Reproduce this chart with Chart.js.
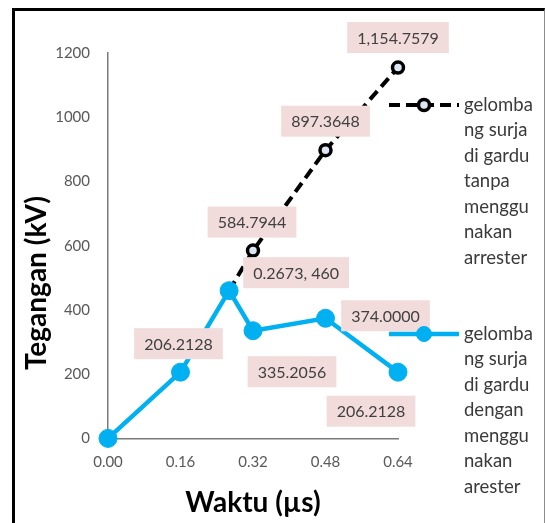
<!DOCTYPE html>
<html>
<head>
<meta charset="utf-8">
<script src="https://cdn.jsdelivr.net/npm/chart.js@4.4.0/dist/chart.umd.min.js"></script>
<style>
html, body { margin: 0; padding: 0; background: #fff; }
#wrap { position: relative; width: 545px; height: 523px; overflow: hidden; }
#frame { position: absolute; left: 12px; top: 8px; width: 529px; height: 600px; border-left: 3px solid #000; border-top: 3px solid #000; border-right: 1px solid #8c8c8c; pointer-events: none; }
canvas { position: absolute; left: 0; top: 0; }
</style>
</head>
<body>
<div id="wrap">
<canvas id="chart" width="545" height="523"></canvas>
<div id="frame"></div>
</div>
<script>
// series: tanpa arrester (dashed black) and dengan arester (blue)
var waktuTanpa = [0.2673, 0.32, 0.48, 0.64];
var teganganTanpa = [460, 584.7944, 897.3648, 1154.7579];
var labelTanpa = ['0.2673, 460', '584.7944', '897.3648', '1,154.7579'];

var waktuDengan = [0, 0.16, 0.2673, 0.32, 0.48, 0.64];
var teganganDengan = [0, 206.2128, 460, 335.2056, 374.0, 206.2128];
var labelDengan = ['', '206.2128', '', '335.2056', '374.0000', '206.2128'];

var legendTanpa = ['gelomba', 'ng surja', 'di gardu', 'tanpa', 'menggu', 'nakan', 'arrester'];
var legendDengan = ['gelomba', 'ng surja', 'di gardu', 'dengan', 'menggu', 'nakan', 'arester'];

var xTicks = [0, 0.16, 0.32, 0.48, 0.64];
var yTicks = [0, 200, 400, 600, 800, 1000, 1200];

// where each data label box sits, relative to its point
var offTanpa = [[67, -18], [-1, -28.5], [0, -29], [0, -30]];
var offDengan = [null, [-2, -28.5], null, [39, 41], [60, -2.5], [-27, 39]];

var blue = '#00B0F0';
var font = 'Lato, "Open Sans", sans-serif';

function toPoints(xs, ys) {
    var pts = [];
    for (var i = 0; i < xs.length; i++) {
        pts.push({ x: xs[i], y: ys[i] });
    }
    return pts;
}

var dataLabels = {
    id: 'dataLabels',
    afterDatasetsDraw: function(chart) {
        var ctx = chart.ctx;
        var sets = [[labelDengan, offDengan], [labelTanpa, offTanpa]];
        ctx.save();
        ctx.font = '16px ' + font;
        ctx.textAlign = 'center';
        ctx.textBaseline = 'middle';
        for (var d = 0; d < sets.length; d++) {
            var meta = chart.getDatasetMeta(d);
            var texts = sets[d][0], offs = sets[d][1];
            for (var j = 0; j < meta.data.length; j++) {
                if (!texts[j]) continue;
                var pt = meta.data[j];
                var cx = pt.x + offs[j][0], cy = pt.y + offs[j][1];
                var w = ctx.measureText(texts[j]).width + 20, h = 31;
                ctx.fillStyle = '#F2DCDB';
                ctx.fillRect(cx - w / 2, cy - h / 2, w, h);
                ctx.fillStyle = '#404040';
                ctx.fillText(texts[j], cx, cy + 1);
            }
        }
        ctx.restore();
    }
};

var sideLegend = {
    id: 'sideLegend',
    afterDraw: function(chart) {
        var ctx = chart.ctx;
        var entries = [
            { lines: legendTanpa, y: 105, ds: chart.data.datasets[1] },
            { lines: legendDengan, y: 334, ds: chart.data.datasets[0] }
        ];
        ctx.save();
        for (var i = 0; i < entries.length; i++) {
            var e = entries[i], ds = e.ds;
            ctx.strokeStyle = ds.borderColor;
            ctx.lineWidth = ds.borderWidth;
            ctx.setLineDash(ds.borderDash || []);
            ctx.beginPath();
            ctx.moveTo(389, e.y);
            ctx.lineTo(459, e.y);
            ctx.stroke();
            ctx.setLineDash([]);
            ctx.fillStyle = ds.pointBackgroundColor;
            ctx.strokeStyle = ds.pointBorderColor;
            ctx.lineWidth = ds.pointBorderWidth;
            ctx.beginPath();
            ctx.arc(424, e.y, ds.legendRadius, 0, Math.PI * 2);
            ctx.fill();
            ctx.stroke();
            ctx.fillStyle = '#3a3a3a';
            ctx.font = '18.5px ' + font;
            ctx.textAlign = 'left';
            ctx.textBaseline = 'middle';
            for (var k = 0; k < e.lines.length; k++) {
                ctx.fillText(e.lines[k], 464, e.y + k * 25.5);
            }
        }
        ctx.restore();
    }
};

new Chart(document.getElementById('chart'), {
    type: 'scatter',
    data: {
        datasets: [{
            label: 'gelombang surja di gardu dengan menggunakan arester',
            data: toPoints(waktuDengan, teganganDengan),
            showLine: true,
            clip: false,
            borderColor: blue,
            backgroundColor: blue,
            borderWidth: 4.5,
            pointBackgroundColor: blue,
            pointBorderColor: blue,
            pointBorderWidth: 1,
            pointRadius: 9,
            legendRadius: 7.5
        }, {
            label: 'gelombang surja di gardu tanpa menggunakan arrester',
            data: toPoints(waktuTanpa, teganganTanpa),
            showLine: true,
            clip: false,
            borderColor: '#000000',
            backgroundColor: '#000000',
            borderWidth: 4,
            borderDash: [11, 6],
            pointBackgroundColor: '#DCE6F2',
            pointBorderColor: '#000000',
            pointBorderWidth: 3.5,
            pointRadius: 5.5,
            legendRadius: 5.5
        }]
    },
    options: {
        responsive: false,
        animation: false,
        layout: {
            padding: { left: 18, right: 147, top: 53, bottom: 3 }
        },
        plugins: {
            legend: { display: false },
            tooltip: { enabled: false }
        },
        scales: {
            x: {
                type: 'linear',
                min: 0,
                max: 0.64,
                afterBuildTicks: function(scale) {
                    scale.ticks = xTicks.map(function(v) { return { value: v }; });
                },
                grid: { display: false, drawTicks: false },
                border: { display: true, color: '#7a7a7a', width: 1.5 },
                ticks: {
                    padding: 15,
                    color: '#595959',
                    font: { family: font, size: 15 },
                    callback: function(v) { return v.toFixed(2); }
                },
                title: {
                    display: true,
                    text: 'Waktu (µs)',
                    color: '#000',
                    font: { family: font, size: 28, weight: 'bold' },
                    padding: { top: 0, bottom: 0 }
                }
            },
            y: {
                min: 0,
                max: 1200,
                afterBuildTicks: function(scale) {
                    scale.ticks = yTicks.map(function(v) { return { value: v }; });
                },
                afterFit: function(scale) {
                    scale.width = 90;
                },
                grid: { display: false, drawTicks: false },
                border: { display: true, color: '#7a7a7a', width: 1.5 },
                ticks: {
                    padding: 18,
                    color: '#595959',
                    font: { family: font, size: 15 },
                    callback: function(v) { return String(v); }
                },
                title: {
                    display: true,
                    // trailing no-break spaces push the title down the axis like the original
                    text: 'Tegangan (kV)' + '\u00A0'.repeat(11),
                    color: '#000',
                    font: { family: font, size: 28, weight: 'bold' },
                    padding: { top: 2, bottom: 2 }
                }
            }
        }
    },
    plugins: [dataLabels, sideLegend]
});
</script>
</body>
</html>
